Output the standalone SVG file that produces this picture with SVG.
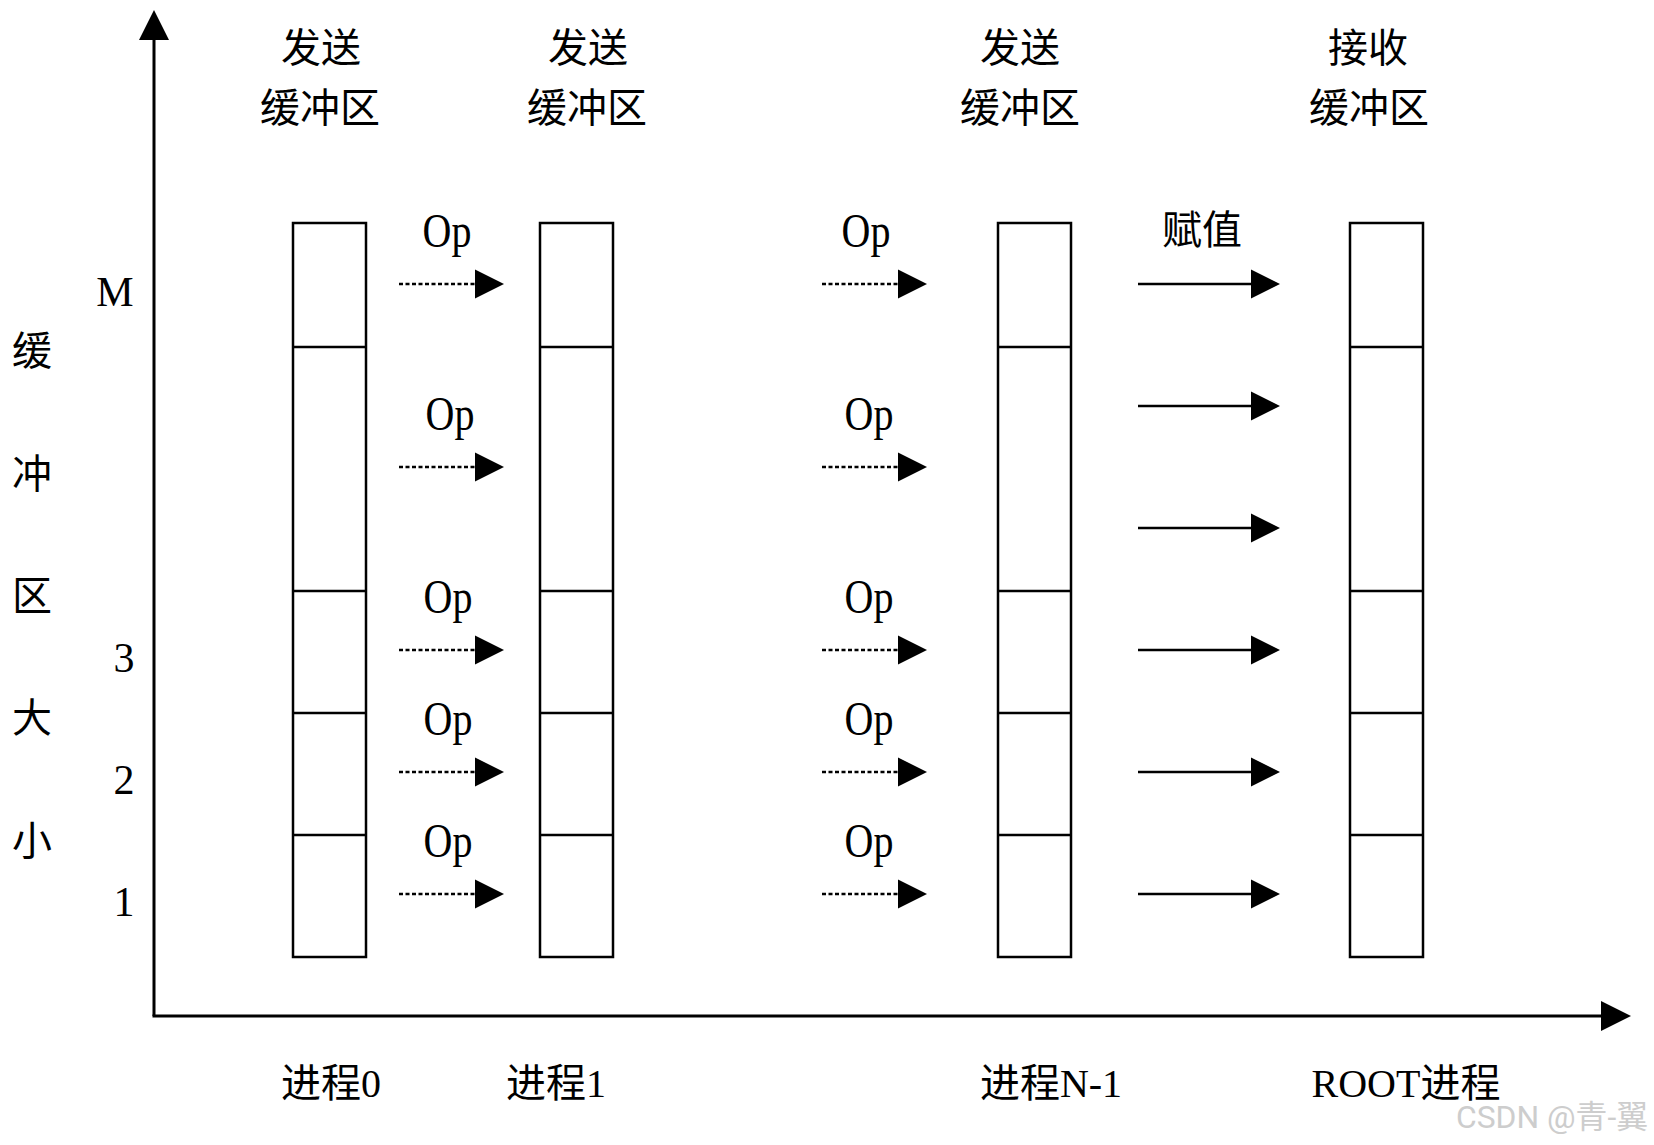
<svg xmlns="http://www.w3.org/2000/svg" width="1654" height="1145" viewBox="0 0 1654 1145">
<style>
  .bg { fill: #ffffff; }
  .buf { fill: #ffffff; stroke: #000; stroke-width: 2.5; }
  .div { stroke: #000; stroke-width: 2.5; }
  .axis { stroke: #000; stroke-width: 3; fill: none; }
  .dot { stroke: #000; stroke-width: 2.4; stroke-dasharray: 4 2.5; fill: none; }
  .sol { stroke: #000; stroke-width: 2.5; fill: none; }
  .cjk { font-family: "Noto Sans CJK SC", sans-serif; font-size: 40px; fill: #000; text-anchor: middle; }
  .lat { font-family: "Liberation Serif", "Noto Sans CJK SC", serif; font-size: 42px; fill: #000; text-anchor: middle; }
  .op { font-family: "Liberation Serif", serif; font-size: 40px; fill: #000; text-anchor: middle; }
  .mix { font-family: "Liberation Serif", "Noto Sans CJK SC", serif; font-size: 40px; fill: #000; text-anchor: middle; }
  .wm { font-family: "Roboto", "Noto Sans CJK SC", sans-serif; font-size: 32px; fill: #cdcdcd; text-anchor: end; }
</style>
<defs>
  <marker id="head" markerUnits="userSpaceOnUse" markerWidth="30" markerHeight="30" refX="0" refY="14.5" orient="auto" overflow="visible">
    <path d="M0,0 L29,14.5 L0,29 Z" fill="#000"/>
  </marker>
</defs>
<rect class="bg" x="0" y="0" width="1654" height="1145"/>

<g id="axes">
  <line class="axis" x1="154" y1="1016" x2="154" y2="38"/>
  <polygon points="154,10 139,40 169,40" fill="#000"/>
  <line class="axis" x1="152.5" y1="1016" x2="1603" y2="1016"/>
  <polygon points="1631,1016 1601,1001 1601,1031" fill="#000"/>
  <g id="y-label">
    <text class="cjk" x="32" y="365">缓</text>
    <text class="cjk" x="32" y="488">冲</text>
    <text class="cjk" x="32" y="610">区</text>
    <text class="cjk" x="32" y="732">大</text>
    <text class="cjk" x="32" y="855">小</text>
  </g>
  <g id="y-ticks">
    <text class="lat" x="115" y="306">M</text>
    <text class="lat" x="124" y="672">3</text>
    <text class="lat" x="124" y="794">2</text>
    <text class="lat" x="124" y="916">1</text>
  </g>
</g>

<g id="proc0">
  <text class="cjk" x="321" y="62">发送</text>
  <text class="cjk" x="320" y="122">缓冲区</text>
  <rect class="buf" x="293" y="223" width="73" height="734"/>
  <line class="div" x1="293" y1="347" x2="366" y2="347"/>
  <line class="div" x1="293" y1="591" x2="366" y2="591"/>
  <line class="div" x1="293" y1="713" x2="366" y2="713"/>
  <line class="div" x1="293" y1="835" x2="366" y2="835"/>
  <text class="mix" x="331" y="1097">进程0</text>
</g>

<g id="proc1">
  <text class="cjk" x="588" y="62">发送</text>
  <text class="cjk" x="587" y="122">缓冲区</text>
  <rect class="buf" x="540" y="223" width="73" height="734"/>
  <line class="div" x1="540" y1="347" x2="613" y2="347"/>
  <line class="div" x1="540" y1="591" x2="613" y2="591"/>
  <line class="div" x1="540" y1="713" x2="613" y2="713"/>
  <line class="div" x1="540" y1="835" x2="613" y2="835"/>
  <text class="mix" x="556" y="1097">进程1</text>
</g>

<g id="procN1">
  <text class="cjk" x="1020" y="62">发送</text>
  <text class="cjk" x="1020" y="122">缓冲区</text>
  <rect class="buf" x="998" y="223" width="73" height="734"/>
  <line class="div" x1="998" y1="347" x2="1071" y2="347"/>
  <line class="div" x1="998" y1="591" x2="1071" y2="591"/>
  <line class="div" x1="998" y1="713" x2="1071" y2="713"/>
  <line class="div" x1="998" y1="835" x2="1071" y2="835"/>
  <text class="mix" x="1051" y="1097">进程N-1</text>
</g>

<g id="root">
  <text class="cjk" x="1368" y="62">接收</text>
  <text class="cjk" x="1369" y="122">缓冲区</text>
  <rect class="buf" x="1350" y="223" width="73" height="734"/>
  <line class="div" x1="1350" y1="347" x2="1423" y2="347"/>
  <line class="div" x1="1350" y1="591" x2="1423" y2="591"/>
  <line class="div" x1="1350" y1="713" x2="1423" y2="713"/>
  <line class="div" x1="1350" y1="835" x2="1423" y2="835"/>
  <text class="mix" x="1406" y="1097">ROOT进程</text>
</g>

<g id="connectors">
  <g id="op-0-1">
    <line class="dot" x1="399" y1="284" x2="475" y2="284" marker-end="url(#head)"/>
    <line class="dot" x1="399" y1="467" x2="475" y2="467" marker-end="url(#head)"/>
    <line class="dot" x1="399" y1="650" x2="475" y2="650" marker-end="url(#head)"/>
    <line class="dot" x1="399" y1="772" x2="475" y2="772" marker-end="url(#head)"/>
    <line class="dot" x1="399" y1="894" x2="475" y2="894" marker-end="url(#head)"/>
    <text class="op" transform="translate(447,247) scale(1,1.22)">Op</text>
    <text class="op" transform="translate(450,430) scale(1,1.22)">Op</text>
    <text class="op" transform="translate(448,613) scale(1,1.22)">Op</text>
    <text class="op" transform="translate(448,735) scale(1,1.22)">Op</text>
    <text class="op" transform="translate(448,857) scale(1,1.22)">Op</text>
  </g>
  <g id="op-to-N1">
    <line class="dot" x1="822" y1="284" x2="898" y2="284" marker-end="url(#head)"/>
    <line class="dot" x1="822" y1="467" x2="898" y2="467" marker-end="url(#head)"/>
    <line class="dot" x1="822" y1="650" x2="898" y2="650" marker-end="url(#head)"/>
    <line class="dot" x1="822" y1="772" x2="898" y2="772" marker-end="url(#head)"/>
    <line class="dot" x1="822" y1="894" x2="898" y2="894" marker-end="url(#head)"/>
    <text class="op" transform="translate(866,247) scale(1,1.22)">Op</text>
    <text class="op" transform="translate(869,430) scale(1,1.22)">Op</text>
    <text class="op" transform="translate(869,613) scale(1,1.22)">Op</text>
    <text class="op" transform="translate(869,735) scale(1,1.22)">Op</text>
    <text class="op" transform="translate(869,857) scale(1,1.22)">Op</text>
  </g>
  <g id="assign">
    <line class="sol" x1="1138" y1="284" x2="1251" y2="284" marker-end="url(#head)"/>
    <line class="sol" x1="1138" y1="406" x2="1251" y2="406" marker-end="url(#head)"/>
    <line class="sol" x1="1138" y1="528" x2="1251" y2="528" marker-end="url(#head)"/>
    <line class="sol" x1="1138" y1="650" x2="1251" y2="650" marker-end="url(#head)"/>
    <line class="sol" x1="1138" y1="772" x2="1251" y2="772" marker-end="url(#head)"/>
    <line class="sol" x1="1138" y1="894" x2="1251" y2="894" marker-end="url(#head)"/>
    <text class="cjk" x="1202" y="244">赋值</text>
  </g>
</g>

<text class="wm" x="1648" y="1128" textLength="192" lengthAdjust="spacingAndGlyphs">CSDN @青-翼</text>
</svg>
